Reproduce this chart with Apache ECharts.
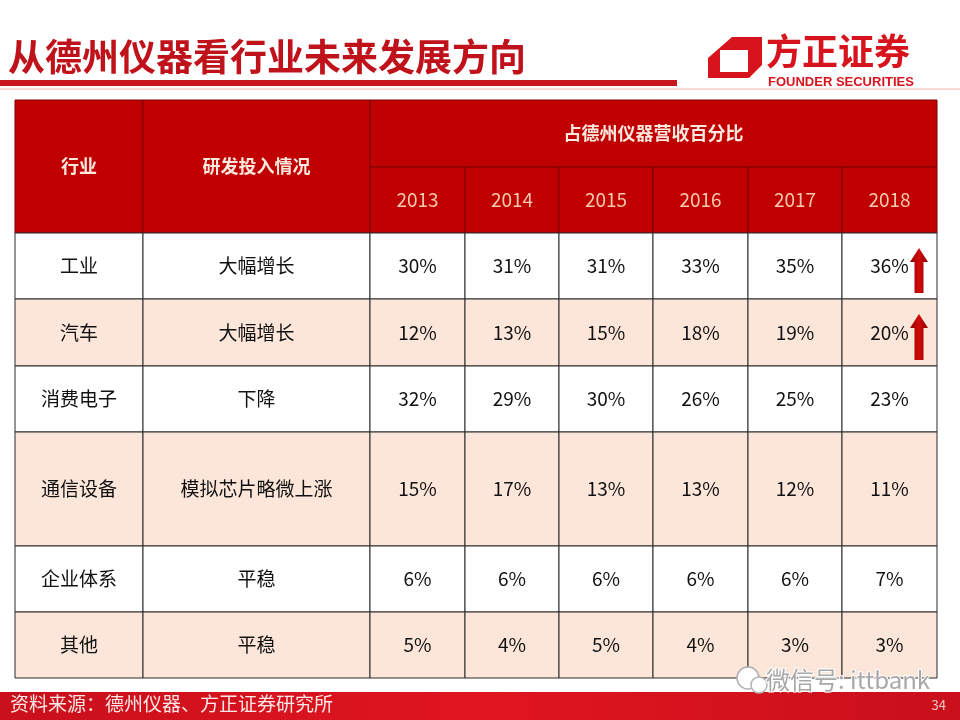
<!DOCTYPE html>
<html>
<head>
<meta charset="utf-8">
<script src="https://cdn.jsdelivr.net/npm/echarts@6/dist/echarts.min.js"></script>
<style>
  html, body { margin: 0; padding: 0; background: #fff; }
  #main { width: 960px; height: 720px; }
</style>
</head>
<body>
<div id="main"></div>
<script>
// table content
const headers = ['行业', '研发投入情况', '占德州仪器营收百分比'];
const years = ['2013', '2014', '2015', '2016', '2017', '2018'];
const industries = ['工业', '汽车', '消费电子', '通信设备', '企业体系', '其他'];
const rdInvest = ['大幅增长', '大幅增长', '下降', '模拟芯片略微上涨', '平稳', '平稳'];
const share2013 = [30, 12, 32, 15, 6, 5];
const share2014 = [31, 13, 29, 17, 6, 4];
const share2015 = [31, 15, 30, 13, 6, 5];
const share2016 = [33, 18, 26, 13, 6, 4];
const share2017 = [35, 19, 25, 12, 6, 3];
const share2018 = [36, 20, 23, 11, 7, 3];
const risingIn2018 = ['工业', '汽车'];

const shares = [share2013, share2014, share2015, share2016, share2017, share2018];

// layout of the table, in grid units (grid is 922 x 578)
const colW = [128, 227, 95, 94, 94, 95, 94, 95];
const rowH = [67, 66, 66, 67, 66, 114, 66, 66];
const colX = [0];
colW.forEach((w, i) => colX.push(colX[i] + w));
const rowY = [0];
rowH.forEach((h, i) => rowY.push(rowY[i] + h));

const FONT = '"Noto Sans CJK SC", "Noto Sans", sans-serif';
const RED = '#c00000';
const PINK = '#fce6d9';

// build cells
const cells = [];
function addCell(c0, c1, r0, r1, text, kind, arrow) {
  cells.push({ x0: colX[c0], x1: colX[c1], y0: rowY[r0], y1: rowY[r1], text: text, kind: kind, arrow: !!arrow });
}
addCell(0, 1, 0, 2, headers[0], 'head');
addCell(1, 2, 0, 2, headers[1], 'head');
addCell(2, 8, 0, 1, headers[2], 'head');
years.forEach((y, i) => addCell(2 + i, 3 + i, 1, 2, y, 'year'));
industries.forEach((name, r) => {
  const kind = r % 2 === 1 ? 'pink' : 'white';
  addCell(0, 1, 2 + r, 3 + r, name, kind);
  addCell(1, 2, 2 + r, 3 + r, rdInvest[r], kind);
  shares.forEach((arr, i) => {
    const isLast = i === years.length - 1;
    addCell(2 + i, 3 + i, 2 + r, 3 + r, arr[r] + '%', kind, isLast && risingIn2018.indexOf(name) >= 0);
  });
});

const chart = echarts.init(document.getElementById('main'));

function renderCell(params, api) {
  const c = cells[params.dataIndex];
  const p0 = api.coord([api.value(0), api.value(2)]);
  const p1 = api.coord([api.value(1), api.value(3)]);
  const w = p1[0] - p0[0], h = p1[1] - p0[1];
  const isHead = c.kind === 'head' || c.kind === 'year';
  const fill = isHead ? RED : (c.kind === 'pink' ? PINK : '#ffffff');
  const children = [{
    type: 'rect',
    shape: { x: p0[0], y: p0[1], width: w, height: h },
    style: { fill: fill, stroke: isHead ? '#7a0000' : '#2b2b2b', lineWidth: 1 }
  }, {
    type: 'text',
    style: {
      text: c.text,
      x: p0[0] + w / 2,
      y: p0[1] + h / 2,
      align: 'center',
      verticalAlign: 'middle',
      fill: c.kind === 'head' ? '#fde8df' : (c.kind === 'year' ? '#f8c8b2' : '#111111'),
      font: (c.kind === 'head' ? 'bold 18px ' : '19px ') + FONT
    }
  }];
  if (c.arrow) {
    const ax = p1[0] - 18, top = p0[1] + 15, bot = p1[1] - 6, hh = 14;
    children.push({
      type: 'polygon',
      shape: {
        points: [[ax - 9, top + hh], [ax, top], [ax + 9, top + hh], [ax + 4.5, top + hh],
                 [ax + 4.5, bot], [ax - 4.5, bot], [ax - 4.5, top + hh]]
      },
      style: {
        fill: new echarts.graphic.LinearGradient(0, 0, 1, 0, [
          { offset: 0, color: '#8e0000' }, { offset: 0.5, color: '#d20a0a' }, { offset: 1, color: '#8e0000' }
        ])
      }
    });
  }
  return { type: 'group', children: children };
}

const option = {
  animation: false,
  grid: { left: 15, top: 100, width: 922, height: 578 },
  xAxis: { type: 'value', min: 0, max: colX[colX.length - 1], show: false },
  yAxis: { type: 'value', min: 0, max: rowY[rowY.length - 1], inverse: true, show: false },
  series: [{
    type: 'custom',
    silent: true,
    renderItem: renderCell,
    encode: { x: [0, 1], y: [2, 3] },
    data: cells.map((c) => [c.x0, c.x1, c.y0, c.y1])
  }],
  graphic: [
    // title + underline
    { type: 'text', left: 8, top: 38, style: { text: '从德州仪器看行业未来发展方向', fill: '#c0121b', font: 'bold 37px ' + FONT } },
    { type: 'rect', shape: { x: 0, y: 80, width: 677, height: 6 }, style: { fill: '#c8161d' } },
    { type: 'rect', shape: { x: 0, y: 88, width: 960, height: 2 }, style: { fill: '#f9d9d9' } },
    // logo
    { type: 'polygon', shape: { points: [[732, 37], [762, 37], [762, 65], [749, 78], [708, 78], [708, 58]] }, style: { fill: '#d7141d' } },
    { type: 'polygon', shape: { points: [[720, 50], [748, 50], [748, 72], [720, 72]] }, style: { fill: '#ffffff' } },
    { type: 'text', left: 766, top: 33, style: { text: '方正证券', fill: '#d7141d', font: 'bold 36px ' + FONT } },
    { type: 'text', left: 768, top: 76, style: { text: 'FOUNDER SECURITIES', fill: '#d7141d', font: 'bold 13px "Liberation Sans Narrow", "Liberation Sans", sans-serif' } },
    // footer
    { type: 'rect', shape: { x: 0, y: 692, width: 960, height: 28 }, style: {
        fill: new echarts.graphic.LinearGradient(0, 0, 1, 0, [
          { offset: 0, color: '#c9101b' }, { offset: 0.5, color: '#e01520' }, { offset: 1, color: '#c9101b' }
        ]) } },
    { type: 'text', left: 10, top: 694, style: { text: '资料来源：德州仪器、方正证券研究所', fill: '#fde8e8', font: '19px ' + FONT } },
    { type: 'text', right: 14, top: 699, style: { text: '34', fill: '#f6c3c3', font: '13px ' + FONT } },
    // watermark
    { type: 'circle', z: 200, shape: { cx: 748, cy: 678, r: 11 }, style: { fill: '#ffffff', stroke: '#b0b0b0', lineWidth: 1.5 } },
    { type: 'circle', z: 200, shape: { cx: 759, cy: 685, r: 8 }, style: { fill: '#ffffff', stroke: '#b0b0b0', lineWidth: 1.5 } },
    { type: 'text', z: 200, x: 766, y: 680, style: { text: '微信号: ittbank', verticalAlign: 'middle', fill: '#a8a8a8', stroke: '#ffffff', lineWidth: 2, font: '24px ' + FONT } }
  ]
};
chart.setOption(option);
</script>
</body>
</html>
